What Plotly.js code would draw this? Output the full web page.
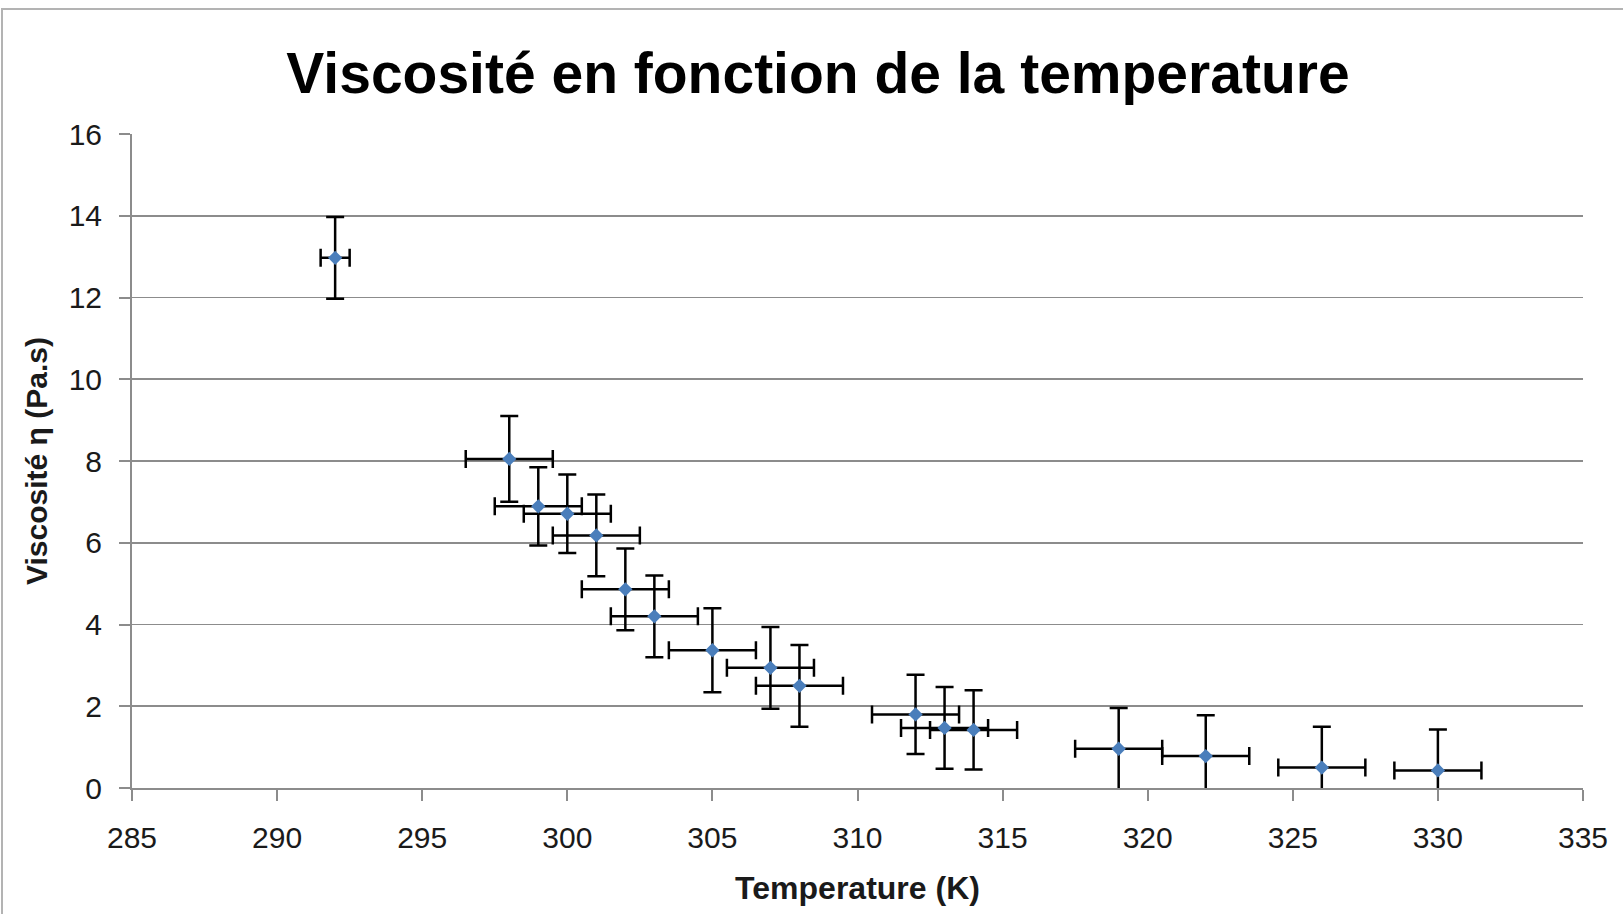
<!DOCTYPE html>
<html>
<head>
<meta charset="utf-8">
<script src="https://cdn.plot.ly/plotly-3.0.1.min.js"></script>
<style>
  html, body { margin: 0; padding: 0; background: #fff; }
  #wrap { position: relative; width: 1623px; height: 914px; overflow: hidden; }
  #chart { position: absolute; left: 0; top: 0; width: 1623px; height: 914px; }
  #frame { position: absolute; left: 1px; top: 8px; width: 1640px; height: 940px;
           border: 2px solid #b3b3b3; pointer-events: none; }
</style>
</head>
<body>
<div id="wrap">
  <div id="chart"></div>
  <div id="frame"></div>
</div>
<script>
// Temperature (K)
const temperature = [292, 298, 299, 300, 301, 302, 303, 305, 307, 308, 312, 313, 314, 319, 322, 326, 330];
// Viscosity (Pa.s)
const viscosity   = [12.97, 8.05, 6.89, 6.71, 6.18, 4.86, 4.20, 3.37, 2.94, 2.50, 1.80, 1.47, 1.42, 0.96, 0.78, 0.50, 0.43];
// Uncertainties
const tempError   = [0.5, 1.5, 1.5, 1.5, 1.5, 1.5, 1.5, 1.5, 1.5, 1.5, 1.5, 1.5, 1.5, 1.5, 1.5, 1.5, 1.5];
const viscError   = [1, 1.05, 0.96, 0.96, 1.0, 1.0, 1.0, 1.03, 1.0, 1.0, 0.97, 1.0, 0.97, 1.0, 1.0, 1.0, 1.0];

const xTicks = [285, 290, 295, 300, 305, 310, 315, 320, 325, 330, 335];
const yTicks = [0, 2, 4, 6, 8, 10, 12, 14, 16];

const titleText = 'Viscosité en fonction de la temperature';
const xTitleText = 'Temperature (K)';
const yTitleText = 'Viscosité η (Pa.s)';

const FONT = '"Liberation Sans", Arial, sans-serif';

const trace = {
  type: 'scatter',
  mode: 'markers',
  x: temperature,
  y: viscosity,
  marker: { symbol: 'diamond', size: 11, color: '#4A7EBB' },
  error_y: { type: 'data', array: viscError, visible: true, color: '#000', thickness: 2.5, width: 9 },
  error_x: { type: 'data', array: tempError, visible: true, color: '#000', thickness: 2.5, width: 9 },
  cliponaxis: true,
  hoverinfo: 'x+y'
};

const layout = {
  width: 1623,
  height: 914,
  paper_bgcolor: '#ffffff',
  plot_bgcolor: '#ffffff',
  margin: { l: 131.5, r: 40.4, t: 133.5, b: 126.3, pad: 0 },
  showlegend: false,
  font: { family: FONT, color: '#1a1a1a' },
  title: {
    text: titleText,
    font: { family: FONT, size: 57, color: '#000', weight: 'bold' },
    xref: 'container', x: 0.504, xanchor: 'center',
    yref: 'container', y: 1 - 73.5 / 914, yanchor: 'middle'
  },
  xaxis: {
    range: [285, 335],
    tickmode: 'array',
    tickvals: xTicks,
    ticktext: xTicks.map(String),
    showgrid: false,
    zeroline: false,
    showline: true,
    linecolor: '#8c8c8c',
    linewidth: 2,
    ticks: 'outside',
    ticklen: 11,
    tickwidth: 2,
    tickcolor: '#8c8c8c',
    tickfont: { family: FONT, size: 30, color: '#1a1a1a' },
    ticklabelstandoff: 11,
    title: { text: xTitleText, font: { family: FONT, size: 32, color: '#1a1a1a', weight: 'bold' }, standoff: 24 },
    automargin: false,
    fixedrange: true
  },
  yaxis: {
    range: [0, 16],
    tickmode: 'array',
    tickvals: yTicks,
    ticktext: yTicks.map(String),
    showgrid: true,
    gridcolor: '#8c8c8c',
    gridwidth: 1.6,
    zeroline: false,
    showline: true,
    linecolor: '#8c8c8c',
    linewidth: 2,
    ticks: 'outside',
    ticklen: 11,
    tickwidth: 2,
    tickcolor: '#8c8c8c',
    tickfont: { family: FONT, size: 30, color: '#1a1a1a' },
    ticklabelstandoff: 11,
    title: { text: yTitleText, font: { family: FONT, size: 30, color: '#1a1a1a', weight: 'bold' }, standoff: 12 },
    automargin: false,
    fixedrange: true
  }
};

Plotly.newPlot('chart', [trace], layout, { displayModeBar: false, staticPlot: true });
</script>
</body>
</html>
